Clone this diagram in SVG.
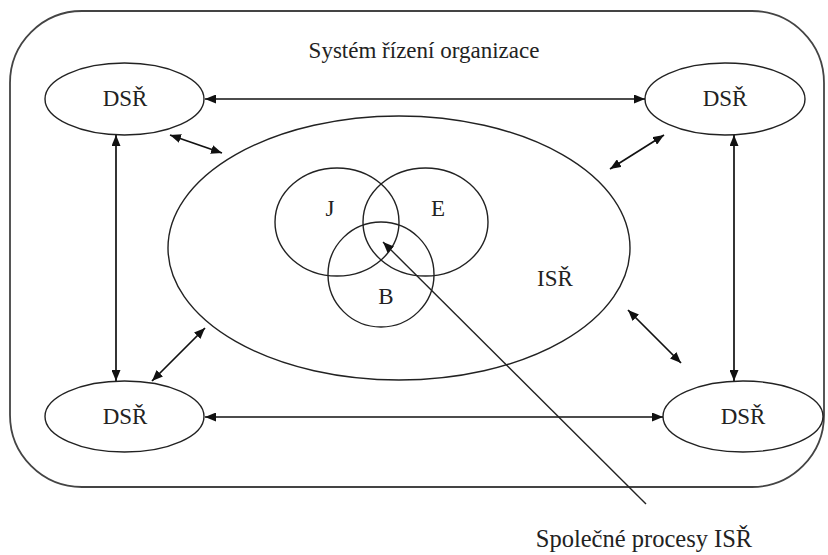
<svg xmlns="http://www.w3.org/2000/svg" width="828" height="555" viewBox="0 0 828 555">
  <style>
    .shape { fill: none; stroke: #222; stroke-width: 1.4; }
    .border { fill: none; stroke: #444; stroke-width: 1.8; }
    .link { fill: none; stroke: #111; stroke-width: 1.7; marker-start: url(#head); marker-end: url(#head); }
    .pointer { fill: none; stroke: #222; stroke-width: 1.4; marker-start: url(#head); }
    .label { font-family: "Liberation Serif", "Times New Roman", serif; font-size: 23px; fill: #222; text-anchor: middle; }
    .note { font-size: 24.5px; }
  </style>
  <defs>
    <marker id="head" viewBox="0 0 11 9" refX="11" refY="4.5" markerWidth="11" markerHeight="9" markerUnits="userSpaceOnUse" orient="auto-start-reverse">
      <path d="M0,0 L11,4.5 L0,9 Z" fill="#111"/>
    </marker>
  </defs>
  <rect width="828" height="555" fill="#fff"/>

  <!-- management system boundary -->
  <g id="system">
    <rect class="border" x="10" y="11" width="814" height="476" rx="72" ry="72"/>
    <text class="label" x="424" y="58">Systém řízení organizace</text>
  </g>

  <!-- information subsystem with overlapping areas -->
  <g id="isr">
    <ellipse class="shape" cx="399" cy="248" rx="231" ry="132"/>
    <text class="label" x="555" y="286">ISŘ</text>
  </g>
  <g id="j">
    <ellipse class="shape" cx="337" cy="222" rx="62" ry="54"/>
    <text class="label" x="330" y="216">J</text>
  </g>
  <g id="e">
    <ellipse class="shape" cx="425.5" cy="222" rx="62.5" ry="54"/>
    <text class="label" x="438" y="216">E</text>
  </g>
  <g id="b">
    <ellipse class="shape" cx="381" cy="274.5" rx="53" ry="52.5"/>
    <text class="label" x="386" y="304">B</text>
  </g>

  <!-- subsystems in the corners -->
  <g id="dsr-tl">
    <ellipse class="shape" cx="124.5" cy="99" rx="79.5" ry="36"/>
    <text class="label" x="125" y="106">DSŘ</text>
  </g>
  <g id="dsr-tr">
    <ellipse class="shape" cx="725" cy="99" rx="80" ry="36"/>
    <text class="label" x="725" y="106">DSŘ</text>
  </g>
  <g id="dsr-bl">
    <ellipse class="shape" cx="124.5" cy="416.5" rx="79.5" ry="35.5"/>
    <text class="label" x="125" y="424">DSŘ</text>
  </g>
  <g id="dsr-br">
    <ellipse class="shape" cx="743" cy="416.5" rx="80" ry="35.5"/>
    <text class="label" x="743" y="424">DSŘ</text>
  </g>

  <g id="note">
    <text class="label note" x="644" y="547">Společné procesy ISŘ</text>
  </g>

  <!-- connectors -->
  <g id="connectors">
    <line class="link" x1="205" y1="99" x2="645" y2="99"/>
    <line class="link" x1="205" y1="417" x2="663" y2="417"/>
    <line class="link" x1="116" y1="135" x2="116" y2="381"/>
    <line class="link" x1="734" y1="135" x2="734" y2="381"/>
    <line class="link" x1="170" y1="135" x2="222" y2="153"/>
    <line class="link" x1="664" y1="135" x2="610" y2="169"/>
    <line class="link" x1="205" y1="328" x2="152" y2="381"/>
    <line class="link" x1="628" y1="310" x2="681" y2="363"/>
    <line class="pointer" x1="383" y1="242" x2="646" y2="504"/>
  </g>
</svg>
